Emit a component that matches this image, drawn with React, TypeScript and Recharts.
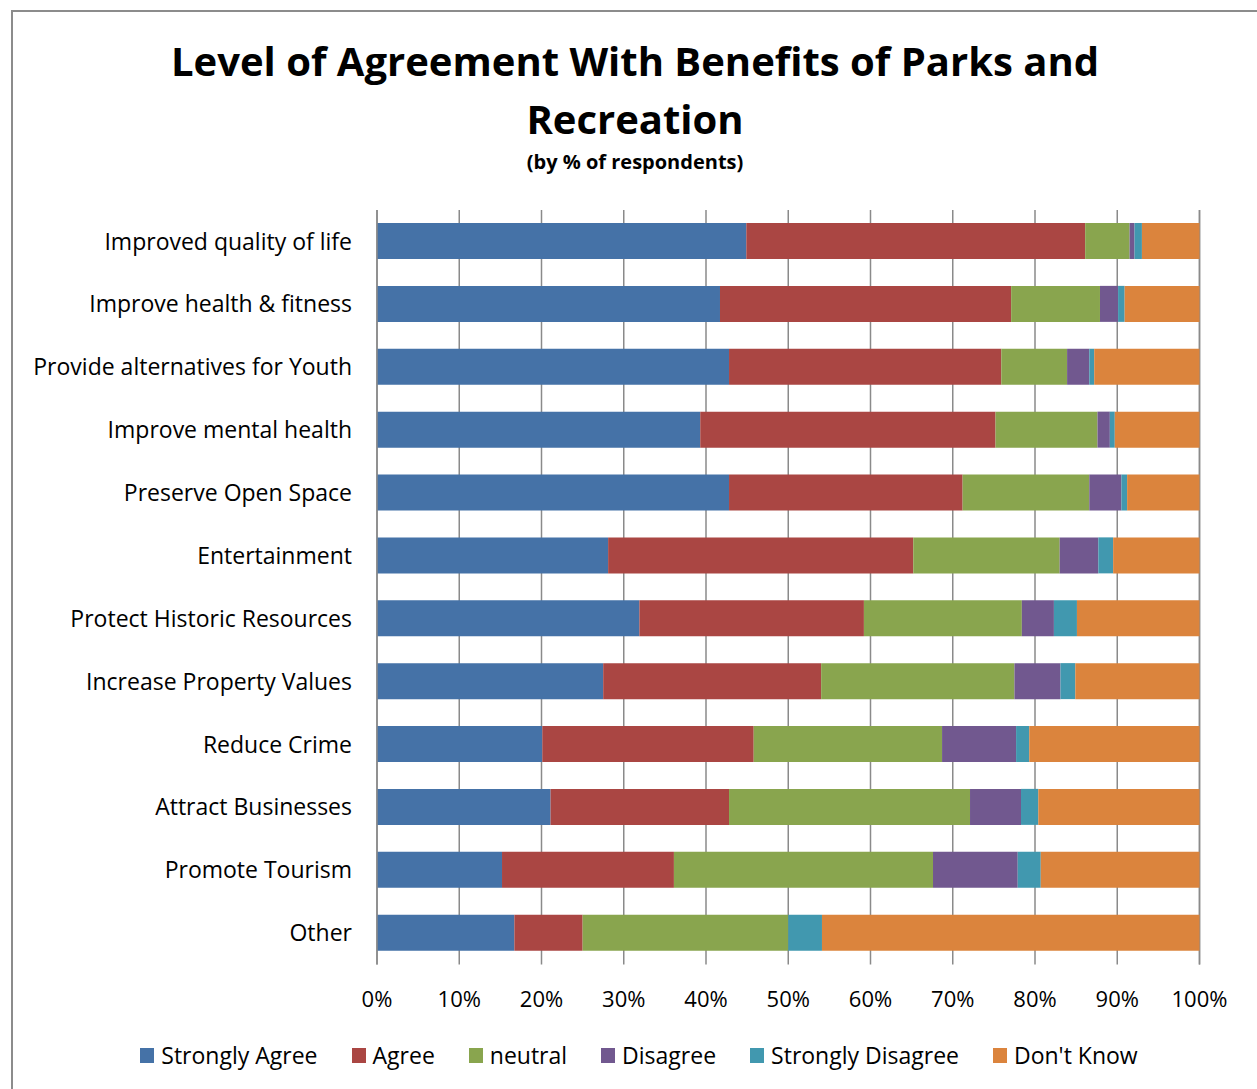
import React from 'react';
import { BarChart, Bar, XAxis, YAxis, CartesianGrid } from 'recharts';

// categories, top to bottom
const CATEGORIES = [
  'Improved quality of life',
  'Improve health & fitness',
  'Provide alternatives for Youth',
  'Improve mental health',
  'Preserve Open Space',
  'Entertainment',
  'Protect Historic Resources',
  'Increase Property Values',
  'Reduce Crime',
  'Attract Businesses',
  'Promote Tourism',
  'Other',
];

// % of respondents per answer
const STRONGLY_AGREE = [44.9, 41.7, 42.8, 39.3, 42.8, 28.1, 31.9, 27.5, 20.1, 21.1, 15.2, 16.7];
const AGREE = [41.2, 35.4, 33.1, 35.9, 28.4, 37.1, 27.3, 26.5, 25.7, 21.7, 20.9, 8.3];
const NEUTRAL = [5.4, 10.8, 8.0, 12.4, 15.4, 17.8, 19.2, 23.5, 22.9, 29.3, 31.5, 25.0];
const DISAGREE = [0.6, 2.2, 2.7, 1.5, 3.9, 4.7, 3.9, 5.6, 9.0, 6.2, 10.3, 0];
const STRONGLY_DISAGREE = [0.9, 0.8, 0.6, 0.6, 0.7, 1.8, 2.8, 1.8, 1.6, 2.1, 2.8, 4.1];
const DONT_KNOW = [7.0, 9.1, 12.8, 10.3, 8.8, 10.5, 14.9, 15.1, 20.7, 19.6, 19.3, 45.9];

const X_TICKS = [0, 10, 20, 30, 40, 50, 60, 70, 80, 90, 100];

const SERIES = [
  { key: 'sa', name: 'Strongly Agree', values: STRONGLY_AGREE, color: '#4572A7' },
  { key: 'a', name: 'Agree', values: AGREE, color: '#AA4643' },
  { key: 'n', name: 'neutral', values: NEUTRAL, color: '#89A54E' },
  { key: 'd', name: 'Disagree', values: DISAGREE, color: '#71588F' },
  { key: 'sd', name: 'Strongly Disagree', values: STRONGLY_DISAGREE, color: '#4198AF' },
  { key: 'dk', name: "Don't Know", values: DONT_KNOW, color: '#DB843D' },
];

const data = CATEGORIES.map((name, i) => {
  const row: Record<string, string | number> = { name };
  SERIES.forEach((s) => {
    row[s.key] = s.values[i];
  });
  return row;
});

const FONT = '"Open Sans", Lato, sans-serif';
const GRID = '#8a8a8a';

const App: React.FC = () => {
  return (
    <div style={{ position: 'fixed', left: 0, top: 0, width: 1257, height: 1089, overflow: 'hidden', background: '#fff' }}>
      {/* outer frame */}
      <div
        style={{
          position: 'absolute',
          left: 11,
          top: 10,
          width: 1300,
          height: 1200,
          border: '2px solid #8c8c8c',
          boxSizing: 'border-box',
        }}
      />

      {/* title */}
      <svg width={1257} height={190} style={{ position: 'absolute', left: 0, top: 0 }}>
        <text x={635} y={76} textAnchor="middle" fontFamily={FONT} fontWeight="bold" fontSize={40} fill="#000">
          Level of Agreement With Benefits of Parks and
        </text>
        <text x={635} y={134} textAnchor="middle" fontFamily={FONT} fontWeight="bold" fontSize={40} fill="#000">
          Recreation
        </text>
        <text x={635} y={169} textAnchor="middle" fontFamily={FONT} fontWeight="bold" fontSize={20} fill="#000">
          (by % of respondents)
        </text>
      </svg>

      <div style={{ position: 'absolute', left: 0, top: 0 }}>
        <BarChart
          width={1257}
          height={1089}
          data={data}
          layout="vertical"
          margin={{ top: 210, right: 57.5, bottom: 94.5, left: 0 }}
        >
          <CartesianGrid horizontal={false} vertical stroke={GRID} strokeWidth={1.5} />
          <XAxis
            type="number"
            domain={[0, 100]}
            ticks={X_TICKS}
            interval={0}
            height={30}
            axisLine={false}
            tickLine={false}
            tickSize={0}
            tickMargin={27}
            tickFormatter={(v: number) => `${v}%`}
            tick={{ fill: '#000', fontSize: 22, fontFamily: FONT }}
          />
          <YAxis
            type="category"
            dataKey="name"
            width={377}
            axisLine={{ stroke: GRID, strokeWidth: 1.5 }}
            tickLine={false}
            tickSize={0}
            tickMargin={25}
            interval={0}
            tick={{ fill: '#000', fontSize: 23, fontFamily: FONT }}
          />
          {SERIES.map((s) => (
            <Bar
              key={s.key}
              dataKey={s.key}
              name={s.name}
              stackId="all"
              fill={s.color}
              barSize={36}
              isAnimationActive={false}
            />
          ))}
        </BarChart>
      </div>

      {/* legend */}
      <div
        style={{
          position: 'absolute',
          left: 0,
          top: 1040,
          width: 1278,
          display: 'flex',
          justifyContent: 'center',
          alignItems: 'center',
          gap: 34,
          fontFamily: FONT,
          fontSize: 23,
          color: '#000',
          lineHeight: '30px',
        }}
      >
        {SERIES.map((s) => (
          <div key={s.key} style={{ display: 'flex', alignItems: 'center', gap: 7 }}>
            <span style={{ display: 'inline-block', width: 14, height: 15, background: s.color }} />
            <span>{s.name}</span>
          </div>
        ))}
      </div>
    </div>
  );
};

export default App;
